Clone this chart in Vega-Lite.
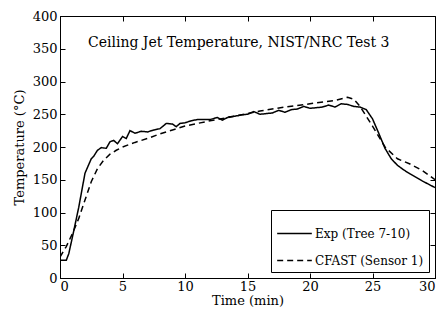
{
  "$schema": "https://vega.github.io/schema/vega-lite/v6.json",
  "autosize": "none",
  "width": 375,
  "height": 262,
  "padding": {"left": 60, "top": 16, "right": 10, "bottom": 42},
  "background": "white",
  "config": {
    "font": "DejaVu Serif",
    "view": {"stroke": "black", "strokeWidth": 1},
    "axis": {"grid": true, "gridColor": "black", "gridWidth": 1, "gridOpacity": 1, "ticks": false, "domainColor": "black", "labelColor": "black", "titleColor": "black", "labelFont": "DejaVu Serif", "titleFont": "DejaVu Serif", "labelFontSize": 13, "titleFontSize": 13, "titleFontWeight": "normal"}
  },
  "datasets": {
    "curves": [
      {"t": 0, "T": 27, "s": "Exp (Tree 7-10)"},
      {"t": 0.5, "T": 27, "s": "Exp (Tree 7-10)"},
      {"t": 0.7, "T": 37, "s": "Exp (Tree 7-10)"},
      {"t": 1, "T": 63, "s": "Exp (Tree 7-10)"},
      {"t": 1.5, "T": 108, "s": "Exp (Tree 7-10)"},
      {"t": 2, "T": 160, "s": "Exp (Tree 7-10)"},
      {"t": 2.5, "T": 182, "s": "Exp (Tree 7-10)"},
      {"t": 2.7, "T": 186, "s": "Exp (Tree 7-10)"},
      {"t": 3, "T": 195, "s": "Exp (Tree 7-10)"},
      {"t": 3.3, "T": 199, "s": "Exp (Tree 7-10)"},
      {"t": 3.7, "T": 198, "s": "Exp (Tree 7-10)"},
      {"t": 4, "T": 208, "s": "Exp (Tree 7-10)"},
      {"t": 4.3, "T": 210, "s": "Exp (Tree 7-10)"},
      {"t": 4.6, "T": 205, "s": "Exp (Tree 7-10)"},
      {"t": 5, "T": 216, "s": "Exp (Tree 7-10)"},
      {"t": 5.3, "T": 213, "s": "Exp (Tree 7-10)"},
      {"t": 5.6, "T": 225, "s": "Exp (Tree 7-10)"},
      {"t": 6, "T": 221, "s": "Exp (Tree 7-10)"},
      {"t": 6.5, "T": 224, "s": "Exp (Tree 7-10)"},
      {"t": 7, "T": 223, "s": "Exp (Tree 7-10)"},
      {"t": 7.5, "T": 226, "s": "Exp (Tree 7-10)"},
      {"t": 8, "T": 228, "s": "Exp (Tree 7-10)"},
      {"t": 8.5, "T": 236, "s": "Exp (Tree 7-10)"},
      {"t": 9, "T": 235, "s": "Exp (Tree 7-10)"},
      {"t": 9.3, "T": 231, "s": "Exp (Tree 7-10)"},
      {"t": 9.6, "T": 236, "s": "Exp (Tree 7-10)"},
      {"t": 10, "T": 237, "s": "Exp (Tree 7-10)"},
      {"t": 10.5, "T": 240, "s": "Exp (Tree 7-10)"},
      {"t": 11, "T": 242, "s": "Exp (Tree 7-10)"},
      {"t": 12, "T": 242, "s": "Exp (Tree 7-10)"},
      {"t": 12.6, "T": 245, "s": "Exp (Tree 7-10)"},
      {"t": 13, "T": 241, "s": "Exp (Tree 7-10)"},
      {"t": 13.5, "T": 246, "s": "Exp (Tree 7-10)"},
      {"t": 14, "T": 247, "s": "Exp (Tree 7-10)"},
      {"t": 14.5, "T": 249, "s": "Exp (Tree 7-10)"},
      {"t": 15, "T": 250, "s": "Exp (Tree 7-10)"},
      {"t": 15.5, "T": 254, "s": "Exp (Tree 7-10)"},
      {"t": 16, "T": 250, "s": "Exp (Tree 7-10)"},
      {"t": 17, "T": 252, "s": "Exp (Tree 7-10)"},
      {"t": 17.5, "T": 256, "s": "Exp (Tree 7-10)"},
      {"t": 18, "T": 253, "s": "Exp (Tree 7-10)"},
      {"t": 18.5, "T": 257, "s": "Exp (Tree 7-10)"},
      {"t": 19, "T": 258, "s": "Exp (Tree 7-10)"},
      {"t": 19.5, "T": 262, "s": "Exp (Tree 7-10)"},
      {"t": 20, "T": 259, "s": "Exp (Tree 7-10)"},
      {"t": 21, "T": 261, "s": "Exp (Tree 7-10)"},
      {"t": 21.5, "T": 264, "s": "Exp (Tree 7-10)"},
      {"t": 22, "T": 261, "s": "Exp (Tree 7-10)"},
      {"t": 22.5, "T": 266, "s": "Exp (Tree 7-10)"},
      {"t": 23, "T": 265, "s": "Exp (Tree 7-10)"},
      {"t": 23.5, "T": 262, "s": "Exp (Tree 7-10)"},
      {"t": 24, "T": 261, "s": "Exp (Tree 7-10)"},
      {"t": 24.5, "T": 257, "s": "Exp (Tree 7-10)"},
      {"t": 25, "T": 243, "s": "Exp (Tree 7-10)"},
      {"t": 25.5, "T": 221, "s": "Exp (Tree 7-10)"},
      {"t": 26, "T": 198, "s": "Exp (Tree 7-10)"},
      {"t": 26.5, "T": 182, "s": "Exp (Tree 7-10)"},
      {"t": 27, "T": 172, "s": "Exp (Tree 7-10)"},
      {"t": 27.5, "T": 165, "s": "Exp (Tree 7-10)"},
      {"t": 28, "T": 159, "s": "Exp (Tree 7-10)"},
      {"t": 29, "T": 148, "s": "Exp (Tree 7-10)"},
      {"t": 30, "T": 138, "s": "Exp (Tree 7-10)"},
      {"t": 0, "T": 32, "s": "CFAST (Sensor 1)"},
      {"t": 0.5, "T": 48, "s": "CFAST (Sensor 1)"},
      {"t": 1, "T": 68, "s": "CFAST (Sensor 1)"},
      {"t": 1.5, "T": 91, "s": "CFAST (Sensor 1)"},
      {"t": 2, "T": 119, "s": "CFAST (Sensor 1)"},
      {"t": 2.5, "T": 147, "s": "CFAST (Sensor 1)"},
      {"t": 3, "T": 167, "s": "CFAST (Sensor 1)"},
      {"t": 3.5, "T": 180, "s": "CFAST (Sensor 1)"},
      {"t": 4, "T": 189, "s": "CFAST (Sensor 1)"},
      {"t": 4.5, "T": 195, "s": "CFAST (Sensor 1)"},
      {"t": 5, "T": 200, "s": "CFAST (Sensor 1)"},
      {"t": 6, "T": 207, "s": "CFAST (Sensor 1)"},
      {"t": 7, "T": 213, "s": "CFAST (Sensor 1)"},
      {"t": 8, "T": 220, "s": "CFAST (Sensor 1)"},
      {"t": 9, "T": 226, "s": "CFAST (Sensor 1)"},
      {"t": 10, "T": 232, "s": "CFAST (Sensor 1)"},
      {"t": 12, "T": 240, "s": "CFAST (Sensor 1)"},
      {"t": 14, "T": 247, "s": "CFAST (Sensor 1)"},
      {"t": 16, "T": 255, "s": "CFAST (Sensor 1)"},
      {"t": 18, "T": 261, "s": "CFAST (Sensor 1)"},
      {"t": 20, "T": 266, "s": "CFAST (Sensor 1)"},
      {"t": 22, "T": 271, "s": "CFAST (Sensor 1)"},
      {"t": 23, "T": 276, "s": "CFAST (Sensor 1)"},
      {"t": 23.5, "T": 273, "s": "CFAST (Sensor 1)"},
      {"t": 24, "T": 262, "s": "CFAST (Sensor 1)"},
      {"t": 25, "T": 232, "s": "CFAST (Sensor 1)"},
      {"t": 26, "T": 200, "s": "CFAST (Sensor 1)"},
      {"t": 27, "T": 182, "s": "CFAST (Sensor 1)"},
      {"t": 28, "T": 174, "s": "CFAST (Sensor 1)"},
      {"t": 29, "T": 164, "s": "CFAST (Sensor 1)"},
      {"t": 30, "T": 150, "s": "CFAST (Sensor 1)"}
    ]
  },
  "layer": [
    {
      "data": {"name": "curves"},
      "mark": {"type": "line", "strokeWidth": 1.5, "color": "black", "clip": true},
      "encoding": {
        "x": {"field": "t", "type": "quantitative", "scale": {"domain": [0, 30], "nice": false}, "axis": {"title": "Time (min)", "values": [0, 5, 10, 15, 20, 25, 30], "gridDash": [5, 252, 5, 1000], "labelPadding": 2, "titlePadding": 1}},
        "y": {"field": "T", "type": "quantitative", "scale": {"domain": [0, 400], "nice": false}, "axis": {"title": "Temperature (°C)", "values": [0, 50, 100, 150, 200, 250, 300, 350, 400], "gridDash": [5, 365, 5, 1000], "labelPadding": 3, "titlePadding": 6}},
        "strokeDash": {
          "field": "s", "type": "nominal",
          "scale": {"domain": ["Exp (Tree 7-10)", "CFAST (Sensor 1)"], "range": [[1, 0], [6, 4]]},
          "legend": {"title": null, "orient": "bottom-right", "offset": 6, "strokeColor": "black", "fillColor": "white", "padding": 5, "symbolType": "stroke", "symbolSize": 1200, "symbolStrokeWidth": 1.5, "symbolStrokeColor": "black", "labelFont": "DejaVu Serif", "labelFontSize": 12, "labelColor": "black", "rowPadding": 2, "labelOffset": 2}
        },
        "detail": {"field": "s"}
      }
    },
    {
      "data": {"values": [{}]},
      "mark": {"type": "text", "font": "DejaVu Serif", "fontSize": 14, "color": "black", "align": "center", "baseline": "middle"},
      "encoding": {
        "x": {"datum": 14.3, "type": "quantitative", "scale": {"domain": [0, 30], "nice": false}, "axis": {"title": "Time (min)", "values": [0, 5, 10, 15, 20, 25, 30], "gridDash": [5, 252, 5, 1000], "labelPadding": 2, "titlePadding": 1}},
        "y": {"datum": 359, "type": "quantitative", "scale": {"domain": [0, 400], "nice": false}, "axis": {"title": "Temperature (°C)", "values": [0, 50, 100, 150, 200, 250, 300, 350, 400], "gridDash": [5, 365, 5, 1000], "labelPadding": 3, "titlePadding": 6}},
        "text": {"value": "Ceiling Jet Temperature, NIST/NRC Test 3"}
      }
    }
  ]
}
